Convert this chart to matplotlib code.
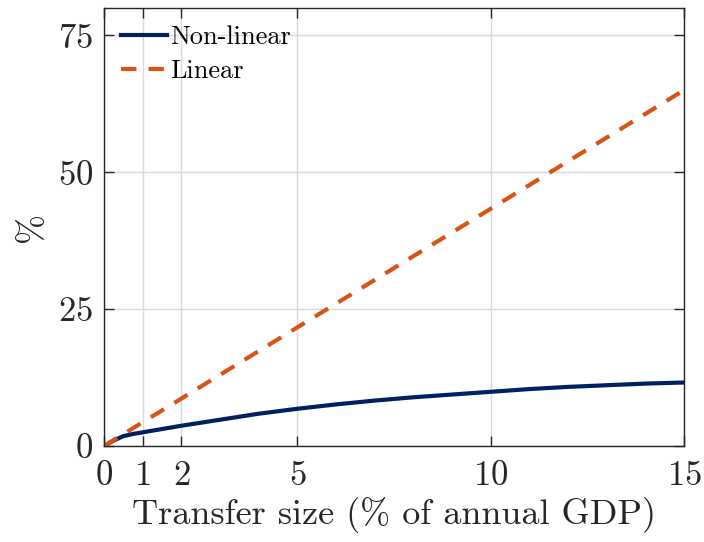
import matplotlib
matplotlib.use("Agg")
import matplotlib.pyplot as plt
import numpy as np

plt.rcParams["font.family"] = "serif"
plt.rcParams["font.serif"] = ["cmr10"]
plt.rcParams["mathtext.fontset"] = "cm"
plt.rcParams["axes.formatter.use_mathtext"] = True

# transfer size in % of annual GDP
x_nonlin = [0, 0.25, 0.5, 0.75, 1, 1.5, 2, 3, 4, 5, 6, 7, 8, 9, 10, 11, 12, 13, 14, 15]
y_nonlin = [0, 1.0, 1.8, 2.2, 2.5, 3.1, 3.7, 4.8, 5.9, 6.8, 7.6, 8.3, 8.9, 9.4, 9.9, 10.4, 10.8, 11.1, 11.4, 11.6]

x_lin = [0, 15]
y_lin = [0, 65]

x_ticks = [0, 1, 2, 5, 10, 15]
y_ticks = [0, 25, 50, 75]

navy = "#002060"
orange = "#D95319"
axis_col = "#262626"

fig = plt.figure(figsize=(7.04, 5.42), dpi=100)
ax = fig.add_axes([0.1477, 0.1771, 0.8239, 0.8081])

ax.plot(x_nonlin, y_nonlin, "-", color=navy, linewidth=3.0, label="Non-linear")
ax.plot(x_lin, y_lin, "--", color=orange, linewidth=3.0, dashes=(3.7, 2.9), label="Linear")

ax.set_xlim(0, 15)
ax.set_ylim(0, 80)
ax.set_xticks(x_ticks)
ax.set_yticks(y_ticks)
ax.grid(True, color="#d9d9d9", linewidth=1.0)
ax.set_axisbelow(True)

for s in ax.spines.values():
    s.set_color(axis_col)
    s.set_linewidth(1.0)
ax.tick_params(direction="in", length=7, width=1.0, colors=axis_col,
               labelsize=25, top=True, right=True)
ax.tick_params(axis="x", pad=10)
ax.tick_params(axis="y", pad=8)
for lbl in ax.get_xticklabels() + ax.get_yticklabels():
    lbl.set_color(axis_col)

ax.set_xlabel("Transfer size (% of annual GDP)", fontsize=26, color=axis_col, labelpad=4)
ax.set_ylabel("%", fontsize=26, color=axis_col, labelpad=7)

ax.legend(loc="upper left", frameon=False, fontsize=19, handlelength=1.75,
          handletextpad=0.1, borderaxespad=0.3, labelspacing=0.4,
          borderpad=0.35)

fig.savefig("out.png", dpi=100)
